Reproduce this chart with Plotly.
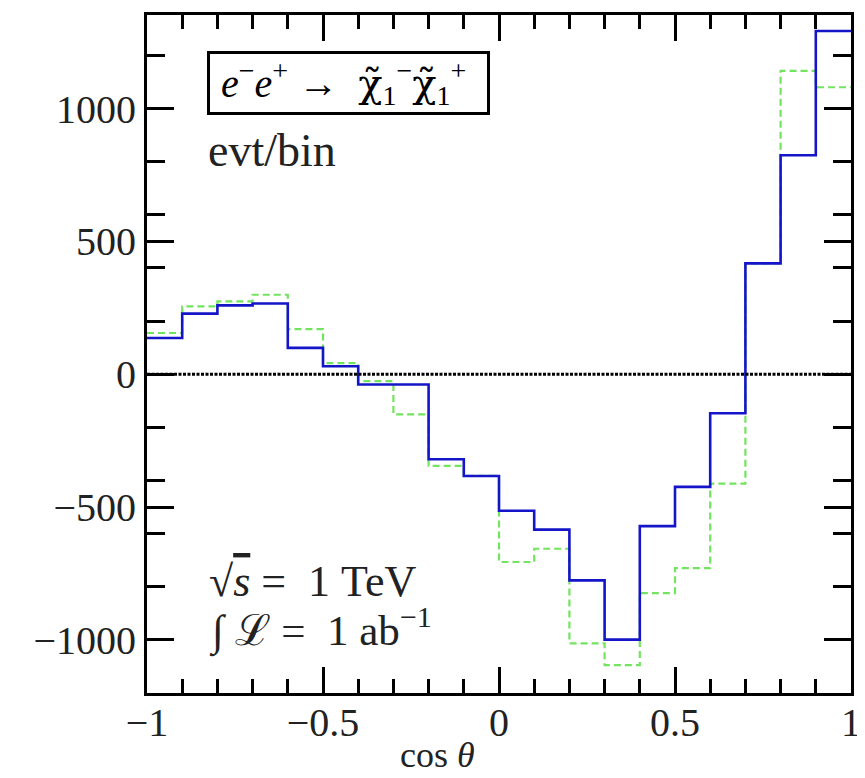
import plotly.graph_objects as go

# bin edges for cos(theta)
bin_edges = [-1.0, -0.9, -0.8, -0.7, -0.6, -0.5, -0.4, -0.3, -0.2, -0.1, 0.0,
             0.1, 0.2, 0.3, 0.4, 0.5, 0.6, 0.7, 0.8, 0.9, 1.0]

# events per bin (solid blue)
blue_vals = [136, 228, 259, 266, 99, 30, -39, -39, -320, -383,
             -514, -585, -776, -999, -572, -424, -147, 417, 824, 1292]

# events per bin (dashed green)
green_vals = [155, 255, 274, 299, 170, 42, -26, -151, -345, -383,
              -707, -657, -1013, -1095, -824, -730, -412, 417, 1142, 1080]

y_tick_vals = [-1000, -500, 0, 500, 1000]
y_tick_text = ["−1000", "−500", "0", "500", "1000"]
x_tick_vals = [-1, -0.5, 0, 0.5, 1]
x_tick_text = ["−1", "−0.5", "0", "0.5", "1"]

FONT = "Liberation Serif"
CHI = "<span style='font-family:DejaVu Serif'>χ̃</span>"
NB = "\u00a0"

def step_xy(edges, vals):
    return list(edges), list(vals) + [vals[-1]]

fig = go.Figure()

gx, gy = step_xy(bin_edges, green_vals)
fig.add_trace(go.Scatter(x=gx, y=gy, mode="lines", line_shape="hv",
                         line=dict(color="rgb(115,228,95)", width=2.2, dash="7px,4px"),
                         showlegend=False))

bx, by = step_xy(bin_edges, blue_vals)
fig.add_trace(go.Scatter(x=bx, y=by, mode="lines", line_shape="hv",
                         line=dict(color="rgb(20,20,200)", width=2.6),
                         showlegend=False))

fig.add_trace(go.Scatter(x=[bin_edges[0], bin_edges[-1]], y=[0, 0], mode="lines",
                         line=dict(color="black", width=3, dash="3px,1.5px"),
                         showlegend=False))

axis_common = dict(showgrid=False, zeroline=False, showline=True, linecolor="black",
                   linewidth=3, ticks="inside", mirror="allticks", tickcolor="black",
                   tickwidth=3, tickfont=dict(family=FONT, size=40, color="#222"),
                   ticklabeloverflow="allow")

fig.update_xaxes(range=[-1, 1], tickvals=x_tick_vals, ticktext=x_tick_text, ticklen=26,
                 ticklabelstandoff=-8,
                 minor=dict(dtick=0.1, tick0=0, ticklen=14, tickwidth=3, ticks="inside",
                            tickcolor="black"),
                 **axis_common)
fig.update_yaxes(range=[-1200, 1352], tickvals=y_tick_vals, ticktext=y_tick_text, ticklen=27,
                 ticklabelstandoff=0,
                 minor=dict(dtick=200, tick0=0, ticklen=18, tickwidth=3, ticks="inside",
                            tickcolor="black"),
                 **axis_common)

fig.add_annotation(xref="paper", yref="paper", x=0.085, y=0.899, xanchor="left", yanchor="middle",
                   text=NB + "<i>e</i><sup>−</sup><i>e</i><sup>+</sup>" + NB + "→" + NB + NB + CHI
                        + "<sub>1</sub><sup>−</sup>" + CHI + "<sub>1</sub><sup>+</sup>" + NB + NB,
                   showarrow=False, font=dict(family=FONT, size=40, color="black"),
                   bordercolor="black", borderwidth=3, borderpad=1, bgcolor="white")
fig.add_annotation(xref="paper", yref="paper", x=0.0845, y=0.8, xanchor="left", yanchor="middle",
                   text="evt/bin", showarrow=False, font=dict(family=FONT, size=46, color="#222"))
fig.add_annotation(xref="paper", yref="paper", x=0.085, y=0.165, xanchor="left", yanchor="middle",
                   text="√<span style='text-decoration:overline'><i>s</i></span>" + NB + "=" + NB + NB
                        + "1" + NB + "TeV",
                   showarrow=False, font=dict(family=FONT, size=44, color="#222"))
fig.add_annotation(xref="paper", yref="paper", x=0.085, y=0.095, xanchor="left", yanchor="middle",
                   text="∫" + NB + "ℒ" + NB + "=" + NB + NB + "1" + NB + "ab<sup>−1</sup>",
                   showarrow=False, font=dict(family=FONT, size=43, color="#222"))
fig.add_annotation(xref="paper", yref="paper", x=0.412, y=-0.1222, xanchor="center", yanchor="bottom",
                   text="cos <i>θ</i>", showarrow=False, borderpad=0,
                   font=dict(family=FONT, size=36, color="#222"))

# the page body adds an 8px offset; size the figure so the plot area lands where the reference has it
fig.update_layout(width=857, height=770, margin=dict(l=139, r=8, t=4, b=85),
                  plot_bgcolor="white", paper_bgcolor="white")

fig.write_html("out.html", config={"displayModeBar": False})
